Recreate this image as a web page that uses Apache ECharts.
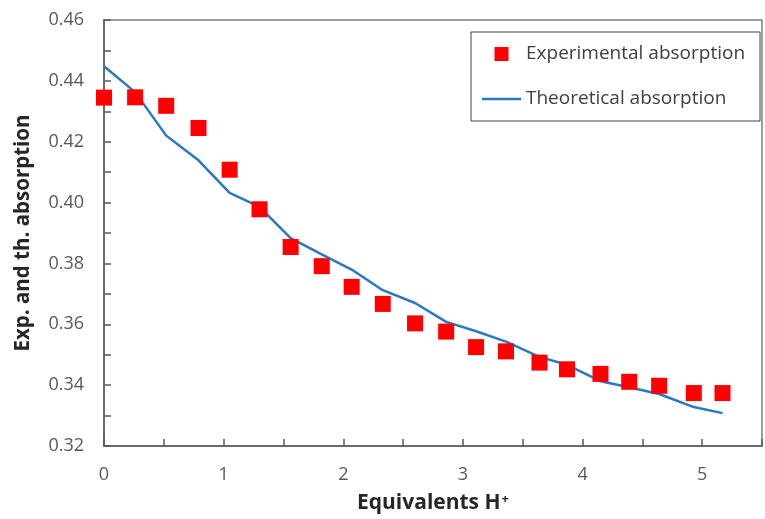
<!DOCTYPE html>
<html>
<head>
<meta charset="utf-8">
<script src="https://cdn.jsdelivr.net/npm/echarts@6/dist/echarts.min.js"></script>
<style>
  html, body { margin: 0; padding: 0; background: #fff; }
  #chart { width: 765px; height: 519px; }
</style>
</head>
<body>
<div id="chart"></div>
<script>
// equivalents of H+ added (x values)
const equivalents = [0, 0.26, 0.52, 0.79, 1.05, 1.30, 1.56, 1.82, 2.07, 2.33, 2.60,
  2.86, 3.11, 3.36, 3.64, 3.87, 4.15, 4.39, 4.64, 4.93, 5.17];
const experimental = [0.4345, 0.4346, 0.4318, 0.4245, 0.4108, 0.3978, 0.3854, 0.3791,
  0.3723, 0.3667, 0.3603, 0.3576, 0.3525, 0.3511, 0.3474, 0.3452, 0.3437, 0.3411,
  0.3398, 0.3374, 0.3374];
const theoretical = [0.4448, 0.4363, 0.4220, 0.4139, 0.4032, 0.3986, 0.3883, 0.3830,
  0.3780, 0.3712, 0.3670, 0.3608, 0.3577, 0.3543, 0.3493, 0.3467, 0.3413, 0.3393,
  0.3371, 0.3328, 0.3308];
const seriesNames = ["Experimental absorption", "Theoretical absorption"];

const font = "'Open Sans', Lato, sans-serif";
const chart = echarts.init(document.getElementById("chart"));

const pairs = (ys) => equivalents.map((x, i) => [x, ys[i]]);

chart.setOption({
  animation: false,
  textStyle: { fontFamily: font },
  grid: {
    left: 104,
    top: 20,
    width: 666.6,
    height: 427,
    show: true,
    borderColor: "#7f7f7f",
    borderWidth: 1.5,
  },
  legend: {
    orient: "vertical",
    left: 471,
    top: 32,
    padding: [12, 12, 12, 11],
    borderColor: "#404040",
    borderWidth: 1,
    itemWidth: 39,
    itemHeight: 14,
    itemGap: 25,
    textStyle: { fontFamily: font, fontSize: 19, color: "#404040", lineHeight: 20, width: 222 },
    data: [
      { name: seriesNames[0], icon: "path://M0,0H10V10H0Z" },
      { name: seriesNames[1], icon: "path://M0,0H39V2.5H0Z" },
    ],
  },
  xAxis: {
    type: "value",
    min: 0,
    max: 5.5,
    interval: 0.5,
    name: "Equivalents H{sup|+}",
    nameLocation: "middle",
    nameGap: 47,
    nameTextStyle: {
      fontFamily: font, fontSize: 21, fontWeight: "bold", color: "#262626",
      rich: {
        sup: { fontFamily: font, fontSize: 13, fontWeight: "bold", color: "#262626", verticalAlign: "top", padding: [0, 0, 0, 1] },
      },
    },
    axisLine: { lineStyle: { color: "#595959", width: 1.5 } },
    axisTick: { inside: true, length: 7, lineStyle: { color: "#595959", width: 1.5 } },
    axisLabel: {
      margin: 20,
      fontSize: 18,
      color: "#595959",
      formatter: (v) => (Math.abs(v - Math.round(v)) < 1e-6 ? String(Math.round(v)) : ""),
    },
    splitLine: { show: false },
  },
  yAxis: {
    type: "value",
    min: 0.32,
    max: 0.46,
    interval: 0.01,
    name: "Exp. and th. absorption",
    nameLocation: "middle",
    nameGap: 70,
    nameTextStyle: { fontFamily: font, fontSize: 20.5, fontWeight: "bold", color: "#262626" },
    axisLine: { show: true, lineStyle: { color: "#595959", width: 1.5 } },
    axisTick: { show: true, inside: true, length: 7, lineStyle: { color: "#595959", width: 1.5 } },
    axisLabel: {
      margin: 20,
      fontSize: 18,
      color: "#595959",
      formatter: (v) => (Math.round(v * 100) % 2 === 0 ? v.toFixed(2) : ""),
    },
    splitLine: { show: false },
  },
  series: [
    {
      name: seriesNames[0],
      type: "scatter",
      symbol: "rect",
      symbolSize: 16,
      itemStyle: { color: "#ff0000", opacity: 1 },
      z: 3,
      data: pairs(experimental),
    },
    {
      name: seriesNames[1],
      type: "line",
      symbol: "none",
      showSymbol: false,
      lineStyle: { color: "#2878c6", width: 2.5 },
      itemStyle: { color: "#2878c6" },
      z: 2,
      data: pairs(theoretical),
    },
  ],
});
</script>
</body>
</html>
